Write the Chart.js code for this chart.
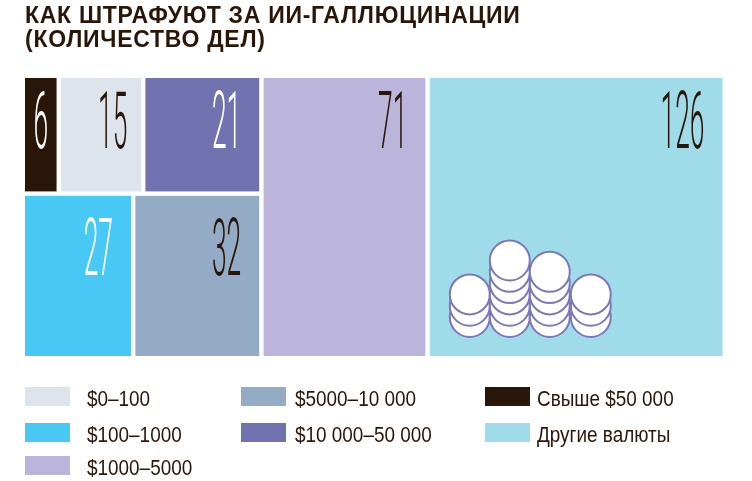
<!DOCTYPE html>
<html lang="ru">
<head>
<meta charset="utf-8">
<title>Как штрафуют за ИИ-галлюцинации</title>
<script src="https://cdn.jsdelivr.net/npm/chart.js@4.4.1/dist/chart.umd.min.js"></script>
<style>
html,body{margin:0;padding:0;background:#fff;}
#wrap{position:relative;width:752px;height:481px;}
</style>
</head>
<body>
<div id="wrap"><canvas id="mycanvas"></canvas></div>
<script>
var titleLines = ['КАК ШТРАФУЮТ ЗА ИИ-ГАЛЛЮЦИНАЦИИ', '(КОЛИЧЕСТВО ДЕЛ)'];
var categories = ['$0–100', '$100–1000', '$1000–5000', '$5000–10 000', '$10 000–50 000', 'Свыше $50 000', 'Другие валюты'];
var cases = [15, 27, 71, 32, 21, 6, 126];
var colors = ['#dde4eb', '#48c8f5', '#bbb5db', '#93abc4', '#7272b0', '#2a1608', '#a0dbea'];
var labelColors = ['#2a1608', '#ffffff', '#2a1608', '#2a1608', '#ffffff', '#ffffff', '#2a1608'];

// treemap grouping: columns -> rows -> cells (indexes into categories)
var columns = [
	[[5, 0, 4], [1, 3]],
	[[2]],
	[[6]]
];
// legend is read column by column
var legendColumns = [[0, 1, 2], [3, 4], [5, 6]];

var ink = '#2a1608';
var total = cases.reduce(function(a, b){ return a + b; }, 0);

function sum(idx){
	var s = 0;
	for (var i = 0; i < idx.length; i++) s += cases[idx[i]];
	return s;
}

// slice-and-dice layout in value space: x = cases (0..total), y = share (0..1)
var rects = [];
var cx = 0;
columns.forEach(function(col){
	var colSum = col.reduce(function(a, row){ return a + sum(row); }, 0);
	var acc = 0;
	col.forEach(function(row, r){
		var rowSum = sum(row);
		var y1 = 1 - acc / colSum;
		var y0 = 1 - (acc + rowSum) / colSum;
		var rx = cx;
		row.forEach(function(i){
			var w = cases[i] / rowSum * colSum;
			rects[i] = {x0: rx, x1: rx + w, y0: y0, y1: y1, row: r};
			rx += w;
		});
		acc += rowSum;
	});
	cx += colSum;
});

var datasets = categories.map(function(name, i){
	var r = rects[i];
	return {
		label: name,
		backgroundColor: colors[i],
		pointRadius: 0,
		data: [{x: (r.x0 + r.x1) / 2, y: (r.y0 + r.y1) / 2}]
	};
});

function cellPixels(chart, i){
	var xs = chart.scales.x, ys = chart.scales.y, r = rects[i], g = 2.2, e = 1e-6;
	var l = xs.getPixelForValue(r.x0), rr = xs.getPixelForValue(r.x1);
	var t = ys.getPixelForValue(r.y1), b = ys.getPixelForValue(r.y0);
	if (r.x0 > e) l += g;
	if (r.x1 < total - e) rr -= g;
	if (r.y1 < 1 - e) t += g;
	if (r.y0 > e) b -= g;
	return {l: l, r: rr, t: t, b: b};
}

function drawCoins(ctx, cell){
	var stacks = [[40, 3], [80, 6], [120, 5], [161, 3]];
	var rad = 20, step = 11.3, base = cell.b - 39;
	ctx.save();
	ctx.fillStyle = '#ffffff';
	ctx.strokeStyle = '#7b77b9';
	ctx.lineWidth = 2;
	stacks.forEach(function(s){
		for (var k = 0; k < s[1]; k++) {
			ctx.beginPath();
			ctx.arc(cell.l + s[0], base - k * step, rad, 0, Math.PI * 2);
			ctx.fill();
			ctx.stroke();
		}
	});
	ctx.restore();
}

var treemapPlugin = {
	id: 'treemap',
	beforeDatasetsDraw: function(chart){
		var ctx = chart.ctx;
		ctx.save();
		rects.forEach(function(r, i){
			var p = cellPixels(chart, i);
			ctx.fillStyle = colors[i];
			ctx.fillRect(p.l, p.t, p.r - p.l, p.b - p.t);
		});
		drawCoins(ctx, cellPixels(chart, 6));

		// values, tall and condensed
		rects.forEach(function(r, i){
			var p = cellPixels(chart, i);
			var w = p.r - p.l;
			var top = p.t + (r.row === 0 ? 13 : 22);
			ctx.save();
			ctx.fillStyle = labelColors[i];
			ctx.font = '300 80px Roboto, "Liberation Sans", sans-serif';
			ctx.textBaseline = 'alphabetic';
			if (w < 50) {
				ctx.translate((p.l + p.r) / 2, top + 57);
				ctx.textAlign = 'center';
			} else {
				ctx.translate(p.r - Math.min(18, w * 0.17), top + 57);
				ctx.textAlign = 'right';
			}
			ctx.scale(0.33, 1);
			ctx.fillText(String(cases[i]), 0, 0);
			ctx.restore();
		});
		ctx.restore();
	},
	afterDraw: function(chart){
		var ctx = chart.ctx;
		ctx.save();
		// title
		ctx.fillStyle = ink;
		ctx.font = 'bold 23px "Liberation Sans", Arial, sans-serif';
		ctx.textBaseline = 'alphabetic';
		ctx.textAlign = 'left';
		var w0 = ctx.measureText(titleLines[0]).width;
		var ls = (495 - w0) / (titleLines[0].length - 1);
		ctx.letterSpacing = ls.toFixed(2) + 'px';
		ctx.fillText(titleLines[0], 25, 23);
		ctx.fillText(titleLines[1], 25, 47);
		ctx.letterSpacing = '0px';

		// legend, condensed by a horizontal squeeze
		var swX = [25, 241, 485], txX = [87, 295, 537], rowTop = [387, 423, 456];
		ctx.font = '22px "Liberation Sans", Arial, sans-serif';
		legendColumns.forEach(function(col, c){
			col.forEach(function(i, r){
				ctx.fillStyle = colors[i];
				ctx.fillRect(swX[c], rowTop[r], 45, 19);
				ctx.save();
				ctx.fillStyle = ink;
				ctx.translate(txX[c], rowTop[r] + 19);
				ctx.scale(0.86, 1);
				ctx.fillText(categories[i], 0, 0);
				ctx.restore();
			});
		});
		ctx.restore();
	}
};

var ctx = document.getElementById('mycanvas');
var treemap = new Chart(ctx, {
	type: 'scatter',
	data: {datasets: datasets},
	options: {
		responsive: true,
		maintainAspectRatio: false,
		animation: false,
		layout: {padding: {left: 25, right: 29.5, top: 78, bottom: 125}},
		scales: {
			x: {type: 'linear', min: 0, max: total, display: false},
			y: {type: 'linear', min: 0, max: 1, display: false}
		},
		plugins: {
			legend: {display: false},
			tooltip: {enabled: false}
		}
	},
	plugins: [treemapPlugin]
});
</script>
</body>
</html>
